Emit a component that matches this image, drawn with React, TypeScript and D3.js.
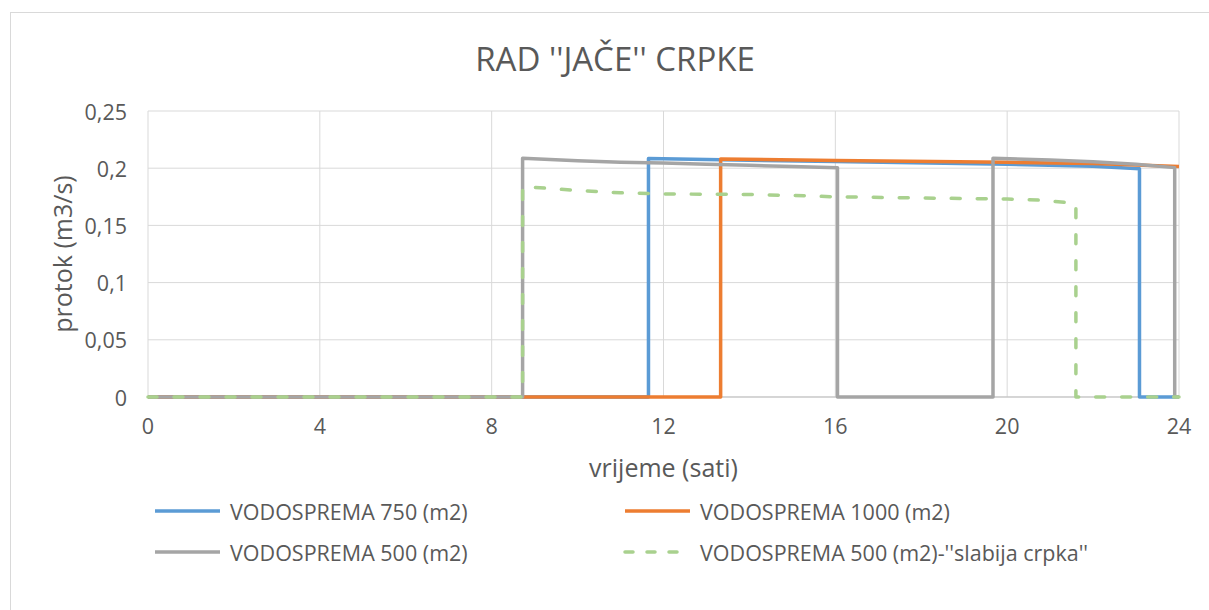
import React from 'react';
import * as d3 from 'd3';

// hours, flow values (m3/s)
const hours750 = [0, 11.65, 11.65, 13, 16, 20, 22, 23.08, 23.08, 24];
const flow750 = [0, 0, 0.2085, 0.2075, 0.2058, 0.2034, 0.2018, 0.1995, 0, 0];

const hours1000 = [0, 13.33, 13.33, 16, 20, 22, 24];
const flow1000 = [0, 0, 0.208, 0.2068, 0.2052, 0.204, 0.2015];

const hours500 = [0, 8.72, 8.72, 10, 11, 12, 13, 14, 15, 16.05, 16.05, 19.67, 19.67, 21, 22, 23, 23.9, 23.9, 24];
const flow500 = [0, 0, 0.2087, 0.2066, 0.2053, 0.2045, 0.2035, 0.2025, 0.2015, 0.2005, 0, 0, 0.2087, 0.2072, 0.2057, 0.2035, 0.2005, 0, 0];

const hoursWeak = [0, 8.72, 8.72, 10, 11, 12, 14, 15, 16, 17.5, 19, 20, 20.8, 21.55, 21.6, 21.6, 24];
const flowWeak = [0, 0, 0.184, 0.1805, 0.1785, 0.1775, 0.177, 0.1762, 0.175, 0.1742, 0.1735, 0.173, 0.172, 0.1695, 0.169, 0, 0];

const xTicks = [0, 4, 8, 12, 16, 20, 24];
const yTicks = [0, 0.05, 0.1, 0.15, 0.2, 0.25];

const seriesNames = [
  'VODOSPREMA 750 (m2)',
  'VODOSPREMA 1000 (m2)',
  'VODOSPREMA 500 (m2)',
  "VODOSPREMA 500 (m2)-''slabija crpka''",
];

const W = 1209;
const H = 610;
const font = '"Open Sans", Lato, sans-serif';
const textColor = '#595959';

const App = () => {
  const margin = { top: 111, right: 30, bottom: 213, left: 148 };
  const x = d3.scaleLinear().domain([0, 24]).range([margin.left, 1179]);
  const y = d3.scaleLinear().domain([0, 0.25]).range([397, margin.top]);

  const line = d3.line<[number, number]>()
    .x(d => x(d[0]))
    .y(d => y(d[1]));

  const zip = (hs: number[], fs: number[]) => hs.map((h, i) => [h, fs[i]] as [number, number]);

  const series = [
    { name: seriesNames[0], data: zip(hours750, flow750), color: '#5b9bd5', dash: undefined },
    { name: seriesNames[1], data: zip(hours1000, flow1000), color: '#ed7d31', dash: undefined },
    { name: seriesNames[2], data: zip(hours500, flow500), color: '#a5a5a5', dash: undefined },
    { name: seriesNames[3], data: zip(hoursWeak, flowWeak), color: '#a9d18e', dash: '9 17' },
  ];

  // legend slots (2 columns x 2 rows)
  const legendPos = [
    { x: 155, y: 511 },
    { x: 625, y: 511 },
    { x: 155, y: 552 },
    { x: 625, y: 552 },
  ];

  const fmt = (v: number) => String(v).replace('.', ',');

  return (
    <svg width={W} height={H} style={{ position: 'absolute', left: 0, top: 0, background: '#fff' }}
      fontFamily={font}>
      <rect x={10.5} y={12.5} width={W} height={H} fill="#fff" stroke="#d9d9d9" strokeWidth={1} />

      <text x={615} y={58} textAnchor="middle" dominantBaseline="central" fontSize={33} fill={textColor}>
        RAD ''JAČE'' CRPKE
      </text>

      {/* gridlines */}
      {yTicks.map(t => (
        <line key={'gy' + t} x1={x(0)} x2={x(24)} y1={y(t)} y2={y(t)} stroke="#d9d9d9" strokeWidth={1} />
      ))}
      {xTicks.map(t => (
        <line key={'gx' + t} x1={x(t)} x2={x(t)} y1={y(0)} y2={y(0.25)} stroke="#d9d9d9" strokeWidth={1} />
      ))}
      <line x1={x(0)} x2={x(24)} y1={y(0)} y2={y(0)} stroke="#bfbfbf" strokeWidth={1} />

      {/* tick labels */}
      {yTicks.map(t => (
        <text key={'ly' + t} x={127} y={y(t)} textAnchor="end" dominantBaseline="central" fontSize={21.5} fill={textColor}>
          {fmt(t)}
        </text>
      ))}
      {xTicks.map(t => (
        <text key={'lx' + t} x={x(t)} y={425} textAnchor="middle" dominantBaseline="central" fontSize={21.5} fill={textColor}>
          {t}
        </text>
      ))}

      <text x={x(12)} y={467} textAnchor="middle" dominantBaseline="central" fontSize={25} fill={textColor}>
        vrijeme (sati)
      </text>
      <text transform={`translate(62,${(y(0) + y(0.25)) / 2}) rotate(-90)`} textAnchor="middle"
        dominantBaseline="central" fontSize={25} fill={textColor}>
        protok (m3/s)
      </text>

      {/* series */}
      {series.map(s => (
        <path key={s.name} d={line(s.data) || ''} fill="none" stroke={s.color} strokeWidth={3.5}
          strokeDasharray={s.dash} strokeLinecap={s.dash ? 'round' : 'butt'} strokeLinejoin="round" />
      ))}

      {/* legend */}
      {series.map((s, i) => (
        <g key={'lg' + i} transform={`translate(${legendPos[i].x},${legendPos[i].y})`}>
          <line x1={0} x2={65} y1={0} y2={0} stroke={s.color} strokeWidth={3.5}
            strokeDasharray={s.dash ? '8 14' : undefined} strokeLinecap={s.dash ? 'round' : 'butt'} />
          <text x={75} y={0} dominantBaseline="central" fontSize={21.5} fill={textColor}>{s.name}</text>
        </g>
      ))}
    </svg>
  );
};

export default App;
